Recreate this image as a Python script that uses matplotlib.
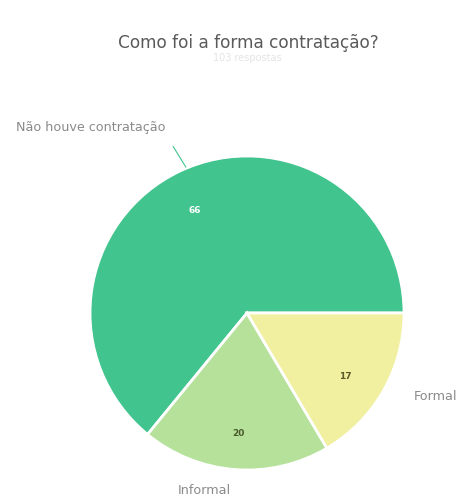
import numpy as np
import matplotlib
matplotlib.use("Agg")
import matplotlib.pyplot as plt

# dados
categorias = ["Não houve contratação", "Informal", "Formal"]
valores = [66, 20, 17]
cores = ["#41c48e", "#b5e19a", "#f1f0a0"]
cor_valor = ["white", "#4a5a2a", "#5a5a28"]

plt.rcParams['font.family'] = ['DejaVu Sans']

fig = plt.figure(figsize=(4.6, 5), dpi=100)
fig.text(0.54, 0.915, "Como foi a forma contratação?", ha="center", va="center",
         fontsize=12.2, color="#5a5a5a")
fig.text(0.537, 0.884, "103 respostas", ha="center", va="center",
         fontsize=7, color="#e4e4e4")

ax = fig.add_axes([0.1957, 0.06, 0.6826, 0.628])
wedges, _ = ax.pie(valores, colors=cores, startangle=0, counterclock=True,
                   wedgeprops=dict(edgecolor="white", linewidth=2))
ax.set_xlim(-1, 1)
ax.set_ylim(-1, 1)
ax.set_aspect("equal")

# valores dentro das fatias
for w, v, c in zip(wedges, valores, cor_valor):
    ang = np.deg2rad((w.theta1 + w.theta2) / 2)
    d = 0.78 if v == max(valores) else 0.72
    ax.text(d * np.cos(ang), d * np.sin(ang) - 0.05, str(v), ha="center", va="center",
            fontsize=6.5, fontweight="bold", color=c)

# rotulos externos
ax.plot([-0.47, -0.39], [1.06, 0.93], color="#41c48e", lw=0.8, clip_on=False)
ax.text(-0.52, 1.18, categorias[0], ha="right", va="center", fontsize=9.2,
        color="#8a8a8a", clip_on=False)
ax.text(-0.27, -1.13, categorias[1], ha="center", va="center", fontsize=9.2,
        color="#8a8a8a", clip_on=False)
ax.text(1.06, -0.53, categorias[2], ha="left", va="center", fontsize=9.2,
        color="#8a8a8a", clip_on=False)

fig.savefig("out.png", dpi=100)
